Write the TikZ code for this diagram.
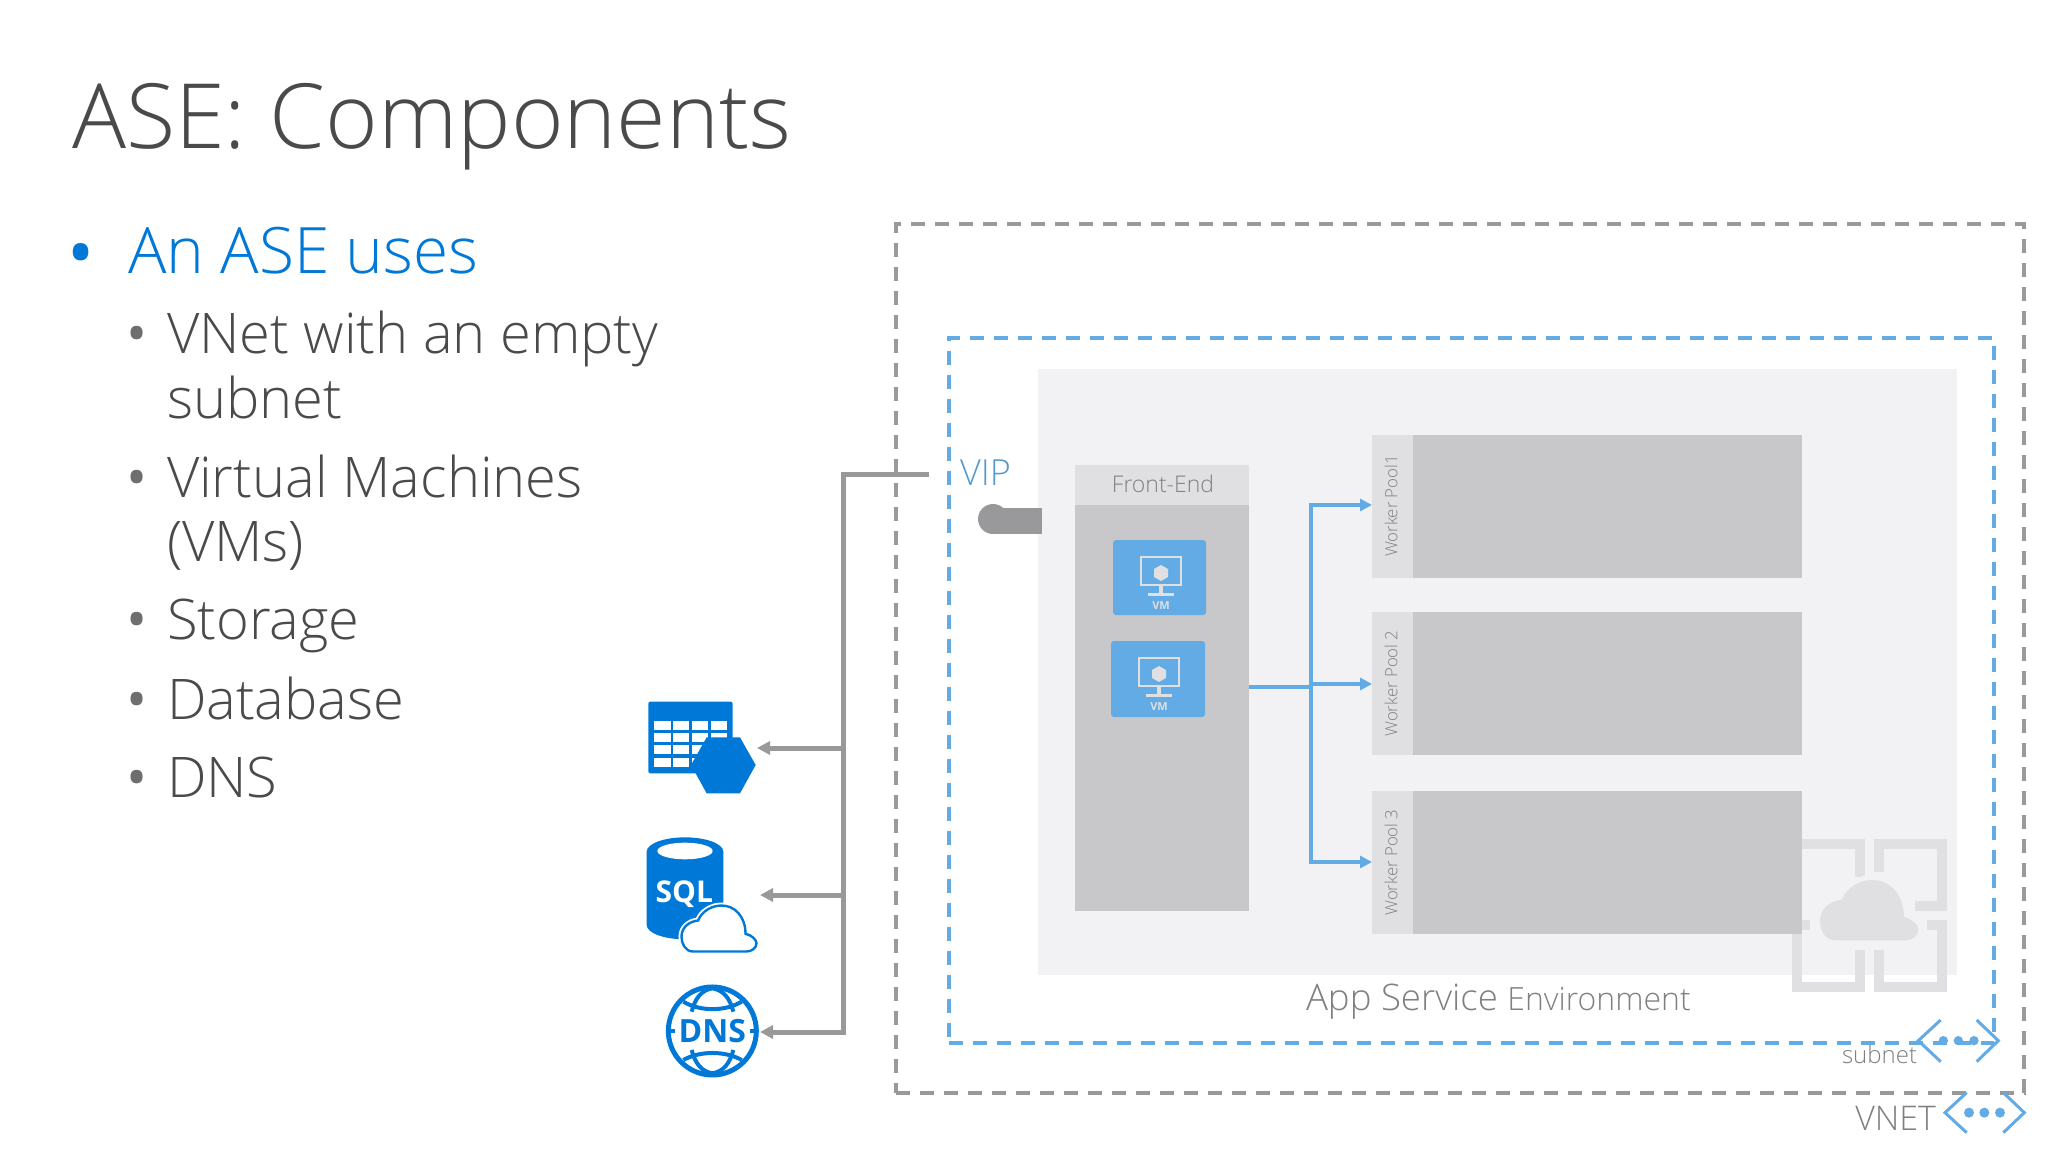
\documentclass[tikz,border=0pt]{standalone}
\usepackage{fontspec}
\setmainfont{Open Sans Light}
\newfontfamily\boldface{Open Sans}[BoldFont={Open Sans Bold}]
\usetikzlibrary{arrows.meta,positioning}
\definecolor{msblue}{HTML}{0078D7}
\definecolor{skyblue}{HTML}{62ABE4}
\definecolor{linegray}{HTML}{99989A}
\definecolor{panelgray}{HTML}{F2F1F3}
\definecolor{headgray}{HTML}{E0DFE1}
\definecolor{bodygray}{HTML}{C8C7C9}
\definecolor{inkgray}{HTML}{4A4A4A}
\definecolor{labelgray}{HTML}{808082}
\newcommand{\cloudpath}{(35,138) .. controls (10,138) and (0,113) .. (0,93) .. controls (0,68) and (20,48) .. (50,45) .. controls (60,18) and (90,0) .. (120,0) .. controls (160,0) and (192,33) .. (192,85) .. controls (210,88) and (225,103) .. (225,113) .. controls (225,128) and (210,138) .. (195,138) -- cycle}
\tikzset{
  plain/.style={inner sep=0pt, outer sep=0pt, anchor=base west},
  tile/.style={inner sep=0pt, outer sep=0pt, minimum width=#1},
  wire/.style={line width=2.5pt, linegray, -{Triangle[length=6.5pt,width=6.5pt]}},
  bluewire/.style={line width=1.8pt, skyblue, -{Triangle[length=6pt,width=6pt]}},
  chevron/.style={skyblue, line width=1.5pt},
  vmicon/.pic={
    \draw[headgray, line width=1.2pt] (-20,-17) rectangle (20,11);
    \draw[headgray, line width=2pt] (0,11) -- (0,19);
    \draw[headgray, line width=1.5pt] (-13,20) -- (13,20);
    \fill[headgray] (0,-9) -- (7,-5) -- (7,3) -- (0,7) -- (-7,3) -- (-7,-5) -- cycle;
  }
}
\begin{document}
\begin{tikzpicture}[x=0.5pt, y=-0.5pt]
\useasboundingbox (0,0) rectangle (2048,1152);

% left column
\node[plain, font=\fontsize{45}{45}\selectfont, text=inkgray] (title) at (72,148) {ASE: Components};
\node[plain, font=\boldface\fontsize{36}{36}\selectfont, text=msblue] (dot0) at (67,278) {•};
\node[plain, font=\fontsize{32}{32}\selectfont, text=msblue] (head) at (128,273) {An ASE uses};
\foreach \y/\t/\n in {353/VNet with an empty/a, 418/subnet/b, 497/Virtual Machines/c, 561/(VMs)/d, 639/Storage/e, 719/Database/f, 797/DNS/g}
  \node[plain, font=\fontsize{28}{28}\selectfont, text=inkgray] (item\n) at (167,\y) {\t};
\foreach \y/\n in {353/a, 497/c, 639/e, 719/f, 797/g}
  \node[plain, font=\boldface\fontsize{28}{28}\selectfont, text=inkgray!80] (dot\n) at (126,\y) {•};

% outer boxes
\node[tile=564pt, minimum height=434.5pt, draw=linegray, line width=1.8pt, dash pattern=on 7pt off 5pt] (vnet) at (1460,658.5) {};
\node[tile=522.5pt, minimum height=352.5pt, draw=skyblue, line width=1.8pt, dash pattern=on 7pt off 5pt] (subnetbox) at (1471.5,690.5) {};
\node[tile=459.5pt, minimum height=303pt, fill=panelgray] (ase) at (1497.5,672) {};

% watermark
\begin{scope}[shift={(1700,780)}, scale=0.3333]
  \draw[headgray, line width=5pt] (290,378) -- (290,193) -- (480,193) -- (480,290);
  \draw[headgray, line width=5pt] (538,275) -- (538,193) -- (725,193) -- (725,378) -- (645,378);
  \draw[headgray, line width=5pt] (682,436) -- (725,436) -- (725,620) -- (538,620) -- (538,510);
  \draw[headgray, line width=5pt] (330,436) -- (290,436) -- (290,620) -- (480,620) -- (480,510);
\end{scope}
\begin{scope}[shift={(1820,880)}, scale=0.4370]
  \draw[panelgray, line width=5pt] \cloudpath;
  \fill[headgray] \cloudpath;
\end{scope}

% front end
\node[tile=87pt, minimum height=203pt, fill=bodygray] (febody) at (1162,708) {};
\node[tile=87pt, minimum height=20pt, fill=headgray] (fehead) at (1162,485) {};
\node[font=\fontsize{11.5}{12}\selectfont, text=labelgray, inner sep=0pt] (fetext) at (1163,484) {Front-End};
\node[tile=46.5pt, minimum height=37.5pt, fill=skyblue, rounded corners=1.5pt] (vma) at (1159.5,577.5) {};
\node[tile=47pt, minimum height=38pt, fill=skyblue, rounded corners=1.5pt] (vmb) at (1158,679) {};
\pic at (1161,574) {vmicon};
\pic at (1159,675) {vmicon};
\node[font=\boldface\bfseries\fontsize{5.5}{6}\selectfont, text=headgray, inner sep=0pt] (vmatext) at (1161,606) {VM};
\node[font=\boldface\bfseries\fontsize{5.5}{6}\selectfont, text=headgray, inner sep=0pt] (vmbtext) at (1159,707) {VM};

% worker pools
\foreach \y/\t/\n in {506/Worker Pool1/a, 683.5/Worker Pool 2/b, 862.5/Worker Pool 3/c} {
  \node[tile=215pt, minimum height=71.5pt, fill=bodygray] (pool\n) at (1587,\y) {};
  \node[tile=20.5pt, minimum height=71.5pt, fill=headgray] (poolhead\n) at (1392.5,\y) {};
  \node[rotate=90, font=\fontsize{8.4}{9}\selectfont, text=labelgray, inner sep=0pt] (pooltext\n) at (1391,\y) {\t};
}

% blue connectors
\coordinate (feout) at (1249,687);
\coordinate (split) at (1311,687);
\coordinate (splita) at (1311,505);
\coordinate (splitc) at (1311,862);
\coordinate (splitb) at (1311,684);
\coordinate (poolina) at (1372,505);
\coordinate (poolinb) at (1372,684);
\coordinate (poolinc) at (1372,862);
\draw[skyblue, line width=1.8pt] (feout) -- (split);
\draw[bluewire] (splitb) -- (poolinb);
\draw[bluewire] (split) -- (splita) -- (poolina);
\draw[bluewire] (split) -- (splitc) -- (poolinc);

% vip
\node[plain, font=\fontsize{18}{18}\selectfont, text=skyblue!90!black] (vip) at (960,485) {VIP};
\node[circle, fill=linegray, minimum size=15pt, inner sep=0pt] (vipdot) at (993,519) {};
\node[tile=24pt, minimum height=13pt, fill=linegray] (vipbar) at (1018,521) {};

% gray connectors
\coordinate (vipend) at (929,474);
\coordinate (trunktop) at (843,474);
\coordinate (trunkbot) at (843,1032);
\coordinate (trunktable) at (843,748);
\coordinate (trunksql) at (843,895);
\coordinate (tabletip) at (757,748);
\coordinate (sqltip) at (760,895);
\coordinate (dnstip) at (760,1032);
\draw[wire] (vipend) -- (trunktop) -- (trunkbot) -- (dnstip);
\draw[wire] (trunktable) -- (tabletip);
\draw[wire] (trunksql) -- (sqltip);

% table icon
\begin{scope}[shift={(600,680)}, scale=0.3333]
  \fill[msblue, rounded corners=1pt] (145,65) rectangle (398,280);
  \foreach \xa/\xb in {162/212, 220/268, 275/323, 333/380}
    \foreach \ya/\yb in {122/150, 158/185, 195/223, 233/262}
      \fill[white] (\xa,\ya) rectangle (\xb,\yb);
  \fill[msblue] (320,172) -- (420,172) -- (467,255) -- (420,340) -- (320,340) -- (273,255) -- cycle;
\end{scope}

% sql icon
\begin{scope}[shift={(600,680)}, scale=0.3333]
  \fill[msblue] (140,515) arc[start angle=180, end angle=360, x radius=115, y radius=43] -- (370,735) arc[start angle=0, end angle=180, x radius=115, y radius=43] -- cycle;
  \fill[white] (255,513) ellipse[x radius=83, y radius=25];
  \node[font=\boldface\bfseries\fontsize{15}{15}\selectfont, text=white, inner sep=0pt] (sqltext) at (253,642) {SQL};
\end{scope}
\begin{scope}[shift={(681.5,905.5)}, scale=0.3333]
  \draw[white, line width=3pt] \cloudpath;
  \draw[msblue, line width=1.2pt, fill=white] \cloudpath;
\end{scope}

% dns icon
\begin{scope}[shift={(600,680)}, scale=0.3333]
  \draw[msblue, line width=2.5pt] (337,1053) circle[radius=132];
  \draw[msblue, line width=2pt] (250,965) .. controls (300,995) and (375,995) .. (425,965);
  \draw[msblue, line width=2pt] (250,1140) .. controls (300,1112) and (375,1112) .. (425,1140);
  \draw[msblue, line width=2pt] (275,995) .. controls (285,955) and (305,930) .. (337,925) .. controls (370,930) and (390,955) .. (400,995);
  \draw[msblue, line width=2pt] (275,1110) .. controls (285,1150) and (305,1175) .. (337,1180) .. controls (370,1175) and (390,1150) .. (400,1110);
  \draw[msblue, line width=2pt] (200,1053) -- (225,1053);
  \draw[msblue, line width=2pt] (450,1053) -- (475,1053);
  \node[font=\boldface\bfseries\fontsize{16}{16}\selectfont, text=msblue, inner sep=0pt] (dnstext) at (337,1053) {DNS};
\end{scope}

% bottom labels
\node[plain, font=\fontsize{18.3}{18}\selectfont, text=labelgray] (asetext) at (1306,1010) {App Service \fontsize{16}{16}\selectfont Environment};
\node[plain, font=\fontsize{12}{12}\selectfont, text=labelgray, anchor=base east] (subnettext) at (1917,1063) {subnet};
\node[plain, font=\fontsize{17}{17}\selectfont, text=labelgray, anchor=base east] (vnettext) at (1936,1130) {VNET};

% network icons
\begin{scope}[shift={(1700,780)}, scale=0.3333]
  \draw[chevron] (722,720) -- (655,782) -- (722,845);
  \draw[chevron] (830,720) -- (895,782) -- (830,845);
  \foreach \x in {730,775,822} \fill[skyblue] (\x,782) circle[radius=14];
  \draw[chevron] (800,938) -- (735,998) -- (800,1058);
  \draw[chevron] (910,938) -- (973,998) -- (910,1058);
  \foreach \x in {807,853,900} \fill[skyblue] (\x,998) circle[radius=15];
\end{scope}

\end{tikzpicture}
\end{document}
